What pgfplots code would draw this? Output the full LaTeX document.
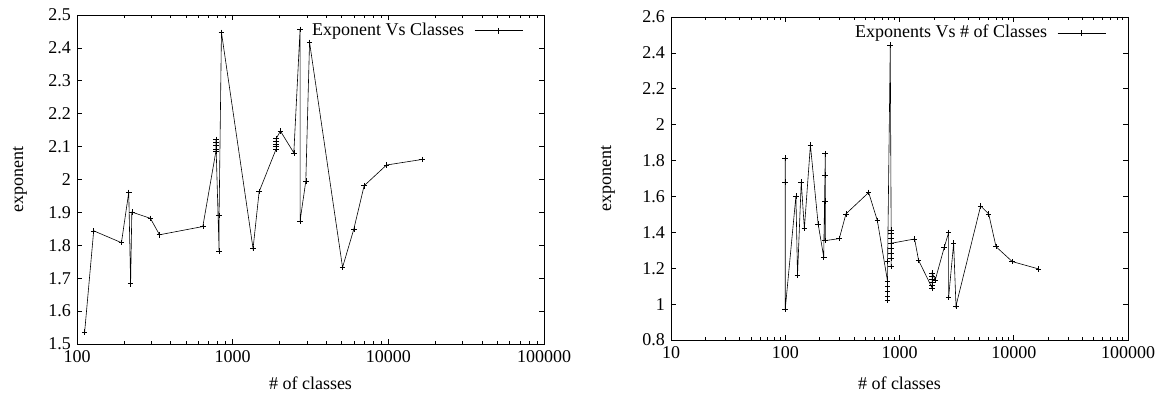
\documentclass[border=0pt]{standalone}
\usepackage{fontspec}
\setmainfont{Liberation Serif}
\usepackage{pgfplots}
\pgfplotsset{compat=1.18}

\newcommand{\gpfont}{\fontsize{18bp}{21bp}\selectfont}

\pgfplotsset{
  mygp/.style={
    scale only axis,
    axis line style={line width=0.9bp},
    tick style={black, line width=0.6bp},
    major tick length=5bp,
    minor tick length=3bp,
    tick align=inside,
    xtick pos=both, ytick pos=both,
    label style={font=\gpfont},
    /pgf/number format/assume math mode=true,
    ticklabel style={font=\gpfont},
    legend plot pos=right,
    legend cell align=right,
    legend style={draw=none, fill=none, anchor=north east, inner sep=0pt,
      column sep=8bp, font=\gpfont},
    legend image code/.code={\draw[mark repeat=2,mark phase=2,##1] plot coordinates {(0bp,0bp) (24bp,0bp) (48bp,0bp)};},
  },
  myplot/.style={black, line width=0.6bp, mark=+, mark size=2.8bp, mark options={solid, line width=0.6bp}},
}

\begin{document}
\gpfont
\begin{tikzpicture}[font=\gpfont]
\useasboundingbox (0,0) rectangle (1163bp,399bp);

\begin{axis}[xmode=log, mygp,
  at={(77bp,55bp)}, anchor=south west,
  width=467bp, height=329bp,
  xmin=100, xmax=100000, ymin=1.5, ymax=2.5,
  xtick={100,1000,10000,100000},
  xticklabels={100,1000,10000,100000},
  minor xtick={200,300,400,500,600,700,800,900,2000,3000,4000,5000,6000,7000,8000,9000,20000,30000,40000,50000,60000,70000,80000,90000},
  ytick={1.5,1.6,1.7,1.8,1.9,2,2.1,2.2,2.3,2.4,2.5},
  yticklabels={1.5,1.6,1.7,1.8,1.9,2,2.1,2.2,2.3,2.4,2.5},
  xlabel={\# of classes},
  ylabel={exponent},
  xlabel style={at={(rel axis cs:0.5,0)}, anchor=center, yshift=-39bp},
  ylabel style={at={(axis description cs:-0.122,0.5)}, anchor=center},
  legend style={at={(rel axis cs:1,1)}, xshift=-21bp, yshift=-6bp},
]
\addplot[myplot] coordinates {
(112,1.537) (128,1.844) (193,1.808) (215,1.961) (221,1.683) (225,1.901)
(296,1.882) (339,1.832) (643,1.857)
(780,2.085) (780,2.093) (780,2.103) (780,2.113) (780,2.122)
(818,1.783) (818,1.890) (847,2.447)
(1352,1.790) (1479,1.963)
(1900,2.092) (1900,2.100) (1900,2.108) (1900,2.116) (1900,2.124)
(2028,2.147) (2471,2.081) (2710,2.456) (2710,1.874) (2950,1.995) (3118,2.417)
(5080,1.733) (6000,1.849) (6990,1.981) (9730,2.044) (16500,2.061)
};
\addlegendentry{Exponent Vs Classes}
\end{axis}

\begin{axis}[xmode=log, mygp,
  at={(671bp,59bp)}, anchor=south west,
  width=457bp, height=323bp,
  xmin=10, xmax=100000, ymin=0.8, ymax=2.6,
  xtick={10,100,1000,10000,100000},
  xticklabels={10,100,1000,10000,100000},
  minor xtick={20,30,40,50,60,70,80,90,200,300,400,500,600,700,800,900,2000,3000,4000,5000,6000,7000,8000,9000,20000,30000,40000,50000,60000,70000,80000,90000},
  ytick={0.8,1,1.2,1.4,1.6,1.8,2,2.2,2.4,2.6},
  yticklabels={0.8,1,1.2,1.4,1.6,1.8,2,2.2,2.4,2.6},
  xlabel={\# of classes},
  ylabel={exponent},
  xlabel style={at={(rel axis cs:0.5,0)}, anchor=center, yshift=-43bp},
  ylabel style={at={(axis description cs:-0.138,0.5)}, anchor=center},
  legend style={at={(rel axis cs:1,1)}, xshift=-22bp, yshift=-6bp},
]
\addplot[myplot] coordinates {
(100,1.815) (100,1.681) (100,0.973) (124,1.603) (128,1.159) (138,1.681)
(147,1.421) (166,1.886) (194,1.447) (217,1.263)
(224,1.838) (224,1.719) (224,1.574) (224,1.354)
(297,1.365) (340,1.503) (537,1.622) (640,1.465)
(787,1.125) (787,1.097) (787,1.069) (787,1.045) (787,1.023) (787,1.237)
(830,2.445)
(845,1.413) (845,1.394) (845,1.366) (845,1.311) (845,1.283) (845,1.256) (845,1.209) (845,1.339)
(1355,1.363) (1469,1.244)
(1936,1.088) (1936,1.105) (1936,1.120) (1936,1.138) (1936,1.155) (1936,1.172)
(2055,1.135) (2465,1.317) (2690,1.398) (2690,1.036) (2977,1.339) (3121,0.990)
(5130,1.547) (6030,1.503) (6995,1.320) (9700,1.237) (16500,1.196)
};
\addlegendentry{Exponents Vs \# of Classes}
\end{axis}
\end{tikzpicture}
\end{document}
